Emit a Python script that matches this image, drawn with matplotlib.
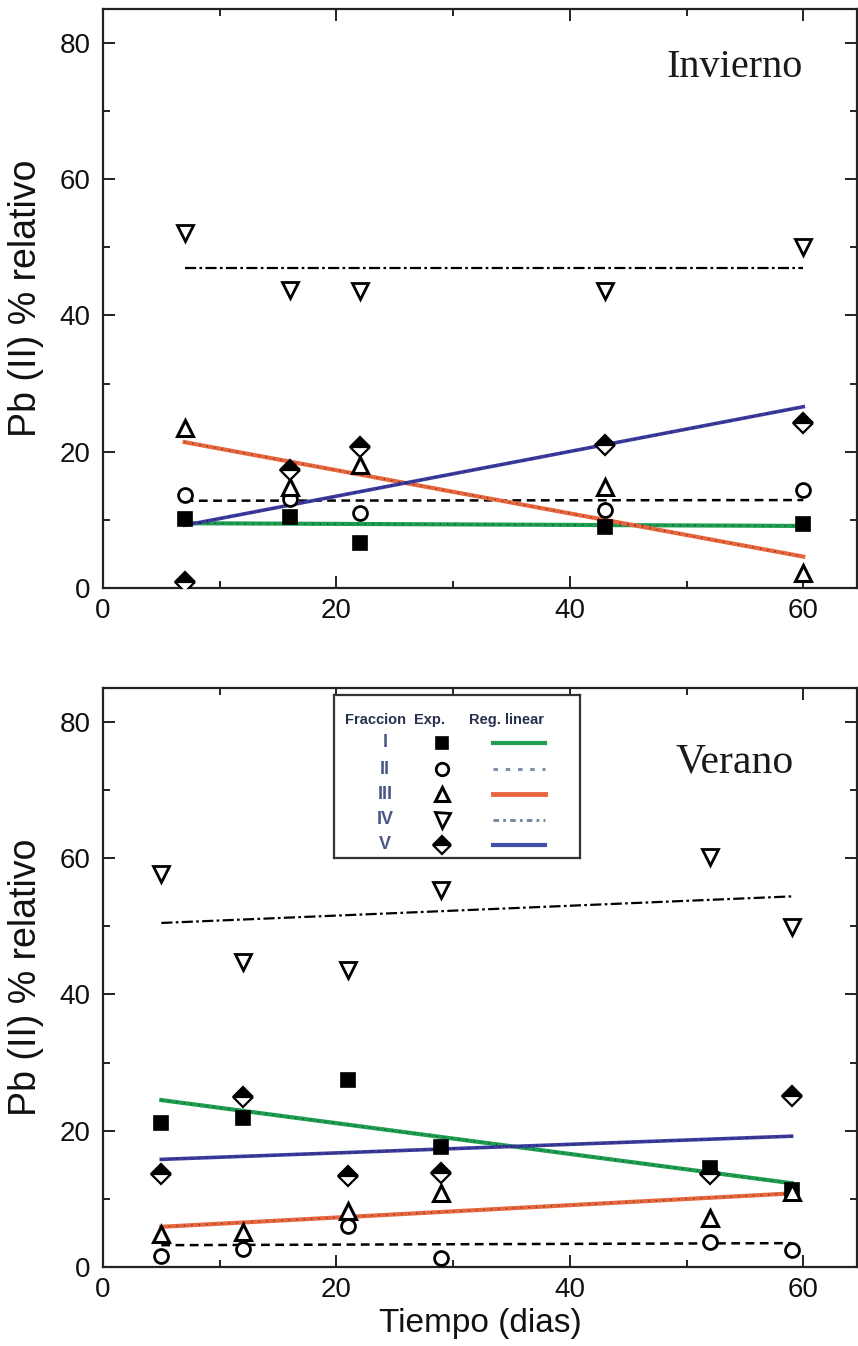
import matplotlib
matplotlib.use('Agg')
import matplotlib.pyplot as plt

# ---------------- data ----------------
# Invierno (winter)
days_w = [7, 16, 22, 43, 60]
w_I = [10.1, 10.4, 6.6, 9.0, 9.4]
w_II = [13.7, 13.0, 11.0, 11.5, 14.4]
w_III = [23.5, 14.8, 18.0, 14.8, 2.2]
w_IV = [52.1, 43.8, 43.6, 43.6, 50.1]
w_V = [0.9, 17.3, 20.7, 21.0, 24.2]
# regression line values at first and last day
w_fit_x = [7, 60]
w_fit_I = [9.5, 9.1]
w_fit_II = [12.8, 12.9]
w_fit_III = [21.4, 4.6]
w_fit_IV = [47.0, 47.0]
w_fit_V = [9.2, 26.6]

# Verano (summer)
days_s = [5, 12, 21, 29, 52, 59]
s_I = [21.1, 21.9, 27.5, 17.6, 14.5, 11.3]
s_II = [1.6, 2.6, 6.0, 1.3, 3.7, 2.5]
s_III = [4.8, 5.1, 8.2, 10.9, 7.2, 11.0]
s_IV = [57.7, 44.8, 43.6, 55.4, 60.2, 49.9]
s_V = [13.7, 25.0, 13.4, 13.8, 13.6, 25.1]
s_fit_x = [5, 59]
s_fit_I = [24.5, 12.3]
s_fit_II = [3.2, 3.5]
s_fit_III = [5.9, 10.8]
s_fit_IV = [50.5, 54.4]
s_fit_V = [15.8, 19.2]

fractions = ['I', 'II', 'III', 'IV', 'V']
x_ticks = [0, 20, 40, 60]
y_ticks = [0, 20, 40, 60, 80]

# ---------------- styles ----------------
GREEN = '#1f9e52'
ORANGE = '#e8663e'
BLUE = '#3b3b9e'
mk = {
    'I': dict(marker='s', ms=10, mfc='black', mec='black', mew=1.2),
    'II': dict(marker='o', ms=10, mfc='white', mec='black', mew=2.0),
    'III': dict(marker='^', ms=11.5, mfc='white', mec='black', mew=2.2),
    'IV': dict(marker='v', ms=12, mfc='white', mec='black', mew=2.0),
    'V': dict(marker='D', ms=10, fillstyle='top', mfc='black', mfcalt='white',
              mec='black', mew=1.6),
}
ln = {
    'I': dict(color=GREEN, lw=3.0, ls='-'),
    'II': dict(color='black', lw=1.8, ls=(0, (3.5, 2.2))),
    'III': dict(color=ORANGE, lw=3.0, ls='-'),
    'IV': dict(color='black', lw=1.6, ls=(0, (5, 1.5, 1.2, 1.5))),
    'V': dict(color=BLUE, lw=2.6, ls='-'),
}
colored = {'I', 'III', 'V'}

plt.rcParams['font.family'] = ['Liberation Sans', 'DejaVu Sans']

fig = plt.figure(figsize=(8.58, 13.46), dpi=100)
ax1 = fig.add_axes([0.1200, 0.5632, 0.8788, 0.4302])
ax2 = fig.add_axes([0.1200, 0.0587, 0.8788, 0.4302])


def draw(ax, days, series, fit_x, fits):
    for name, vals, fv in zip(fractions, series, fits):
        ax.plot(fit_x, fv, zorder=2, **ln[name])
        if name in colored:
            ax.plot(fit_x, fv, zorder=2.1, color='black', lw=0.9,
                    ls=(0, (1, 5)), alpha=0.55)
        ax.plot(days, vals, ls='none', zorder=3, **mk[name])
    ax.set_xlim(0, 64.6)
    ax.set_ylim(0, 85)
    ax.set_xticks(x_ticks)
    ax.set_yticks(y_ticks)
    ax.set_xticks([10, 30, 50], minor=True)
    ax.set_yticks([10, 30, 50, 70], minor=True)
    ax.tick_params(which='both', direction='in', top=True, right=True,
                   width=1.4, colors='#222222', labelcolor='#111111')
    ax.tick_params(which='major', length=8.5, labelsize=20, pad=7)
    ax.tick_params(axis='y', which='major', pad=9)
    ax.tick_params(which='minor', length=5)
    for sp in ax.spines.values():
        sp.set_linewidth(1.6)
        sp.set_color('#222222')
    ax.set_ylabel('Pb (II) % relativo', fontsize=27, color='#111111')
    ax.yaxis.set_label_coords(-0.078, 0.5)
    return ax


draw(ax1, days_w, [w_I, w_II, w_III, w_IV, w_V], w_fit_x,
     [w_fit_I, w_fit_II, w_fit_III, w_fit_IV, w_fit_V])
draw(ax2, days_s, [s_I, s_II, s_III, s_IV, s_V], s_fit_x,
     [s_fit_I, s_fit_II, s_fit_III, s_fit_IV, s_fit_V])

ax1.text(0.838, 0.898, 'Invierno', transform=ax1.transAxes, ha='center',
         va='center', fontsize=29, family='Liberation Serif', color='#1a1a1a')
ax2.text(0.838, 0.872, 'Verano', transform=ax2.transAxes, ha='center',
         va='center', fontsize=30, family='Liberation Serif', color='#1a1a1a')
ax2.set_xlabel('Tiempo (dias)', fontsize=24, color='#111111', labelpad=4)

# ---------------- custom legend table ----------------
lg = fig.add_axes([0.3893, 0.3626, 0.2867, 0.1211])
lg.set_xlim(0, 1)
lg.set_ylim(0, 1)
lg.set_xticks([])
lg.set_yticks([])
for sp in lg.spines.values():
    sp.set_linewidth(1.6)
    sp.set_color('#333333')
hdr_col = '#27304f'
num_col = '#4a5888'
lg.text(0.169, 0.847, 'Fraccion', ha='center', va='center', fontsize=10.5,
        fontweight='bold', color=hdr_col)
lg.text(0.39, 0.847, 'Exp.', ha='center', va='center', fontsize=10.5,
        fontweight='bold', color=hdr_col)
lg.text(0.70, 0.847, 'Reg. linear', ha='center', va='center', fontsize=10.5,
        fontweight='bold', color=hdr_col)
row_y = [0.706, 0.545, 0.39, 0.235, 0.08]
leg_ln = {
    'I': dict(color=GREEN, lw=3.0, ls='-'),
    'II': dict(color='#8090b0', lw=2.2, ls=(0, (1.5, 2.5))),
    'III': dict(color=ORANGE, lw=3.5, ls='-'),
    'IV': dict(color='#7080a0', lw=2.0, ls=(0, (2, 1.5, 1, 1.5))),
    'V': dict(color='#4050a8', lw=3.0, ls='-'),
}
for name, yy in zip(fractions, row_y):
    lg.text(0.207, yy, name, ha='center', va='center', fontsize=13,
            color=num_col, fontweight='bold')
    style = dict(mk[name])
    style['ms'] = style['ms'] * 0.9
    lg.plot([0.439], [yy], ls='none', **style)
    lg.plot([0.646, 0.858], [yy, yy], **leg_ln[name])

fig.savefig('out.png', dpi=100)
